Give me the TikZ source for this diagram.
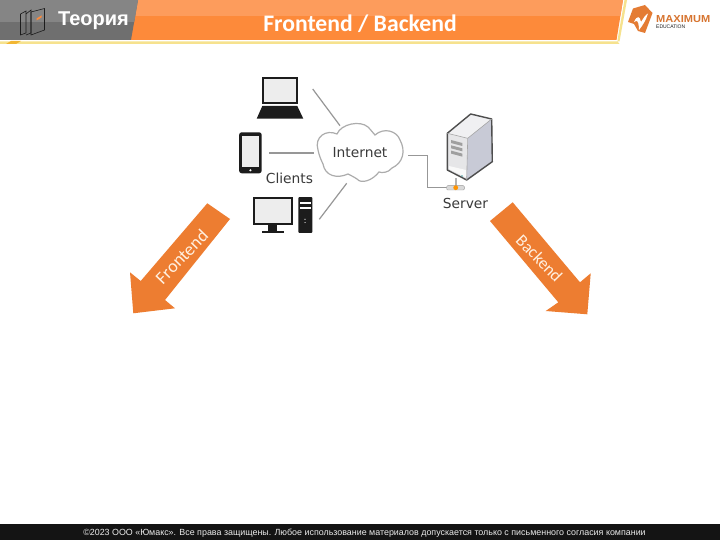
\documentclass[tikz,border=0pt]{standalone}
\usepackage{fontspec}
\setmainfont{Liberation Sans}
\newfontfamily\carl{Carlito}
\newfontfamily\dejav{DejaVu Sans}
\usetikzlibrary{calc}
\definecolor{arrorange}{HTML}{ED7D31}
\definecolor{hdA}{HTML}{FD9C5C}
\definecolor{hdB}{HTML}{FD8A3A}
\definecolor{grA}{HTML}{858585}
\definecolor{grB}{HTML}{6F6F6F}
\definecolor{yel}{HTML}{F6E28E}
\definecolor{gold}{HTML}{F2B632}
\definecolor{wire}{HTML}{979797}
\definecolor{ink}{HTML}{1C1C1C}
\definecolor{scr}{HTML}{EDEDED}
\definecolor{lab}{HTML}{3A3A3A}
\definecolor{srvside}{HTML}{C8CAD6}
\definecolor{srvfront}{HTML}{E6E6E8}
\definecolor{srvtop}{HTML}{F0F0F2}
\tikzset{
  wireline/.style={draw=wire,line width=1.2pt},
  icon/.style={draw=ink,line width=2pt,fill=scr},
  solidicon/.style={fill=ink,draw=none},
  biglabel/.style={inner sep=0,text=lab,font=\dejav\fontsize{13.8}{13.8}\selectfont},
  arrowshape/.style={fill=arrorange,draw=none},
  arrowtext/.style={inner sep=0,text=white!88!orange,font=\carl\fontsize{18}{18}\selectfont},
}
\begin{document}
\begin{tikzpicture}[x=1pt,y=-1pt]
\useasboundingbox (0,0) rectangle (720,540);
\fill[white] (0,0) rectangle (720,540);

% header
\fill[yel] (0,41.5) -- (619.5,41.5) -- (627,0) -- (624.5,0) -- (617.5,40) -- (617.5,41.5) -- (619.5,44) -- (0,44) -- cycle;
\fill[gold] (6,44) -- (11,41) -- (21,41) -- (16,44) -- cycle;
\fill[hdB] (131,0) -- (623,0) -- (616.5,40) -- (131,40) -- cycle;
\fill[hdA] (136,0) -- (623,0) -- (620.3,16) -- (134,16) -- cycle;
\fill[grB] (0,0) -- (138,0) -- (131,40) -- (0,40) -- cycle;
\fill[grA] (0,0) -- (138,0) -- (134.2,22) -- (0,22) -- cycle;

% header icon
\draw[ink,line width=0.6pt] (20.5,14) -- (26,11) -- (26,33) -- (20.5,35) -- cycle;
\draw[ink,line width=0.6pt] (26,14) -- (31,10) -- (31,33) -- (26,35);
\draw[ink,line width=0.6pt] (31,12) -- (44.5,8.5) -- (44.5,30) -- (31,35) -- cycle;
\fill[hdB] (36.5,18.5) -- (41.5,15.5) -- (41.5,17.5) -- (36.5,20.5) -- cycle;
\node[inner sep=0,text=white,font=\bfseries\fontsize{20}{20}\selectfont] (theory) at (93.5,20.5) {Теория};
\node[inner sep=0,text=white,font=\carl\bfseries\fontsize{23.7}{23.7}\selectfont] (title) at (360,24) {Frontend / Backend};

% logo
\fill[hdB!90!black] (633,8.5) -- (645,5) -- (652.5,13) -- (645,33) -- (638,31) -- (634,24) -- (628,22) -- cycle;
\fill[white] (634,22) .. controls (637,15) and (640,16) .. (641,22) .. controls (643,19) and (645,15) .. (648,13.5) .. controls (646,20) and (643,25) .. (639,30) .. controls (639,25) and (638,20) .. (636,21) -- cycle;
\node[inner sep=0,anchor=west,text=hdB!85!black,font=\bfseries\fontsize{9.5}{9.5}\selectfont] (logoa) at (656,19.5) {\resizebox{54pt}{7pt}{MAXIMUM}};
\node[inner sep=0,anchor=west,text=ink,font=\fontsize{4.5}{4.5}\selectfont] (logob) at (656,27) {\resizebox{29pt}{3.6pt}{EDUCATION}};

% clients: laptop
\node[icon,minimum width=34pt,minimum height=24.5pt,inner sep=0] (laptop) at (280.1,90.3) {};
\fill[ink] (262.3,106) -- (297.3,106) -- (303.3,118.7) -- (256.7,118.7) -- cycle;
% phone
\node[solidicon,rounded corners=2.5pt,minimum width=22.5pt,minimum height=41pt,inner sep=0] (phone) at (250.4,152.8) {};
\fill[scr] (241.9,135.7) rectangle (259,167.3);
\fill[white] (250.4,170.3) circle (1.2);
% desktop
\node[icon,minimum width=38.5pt,minimum height=26pt,inner sep=0] (monitor) at (273,211) {};
\fill[ink] (268.3,225) rectangle (276.7,230.7);
\fill[ink] (261.7,230.7) rectangle (284.3,232.9);
\node[solidicon,rounded corners=0.8pt,minimum width=14pt,minimum height=35.5pt,inner sep=0] (tower) at (305.3,215) {};
\fill[white] (299.8,202.5) rectangle (310.8,204.3);
\fill[white] (299.8,207.3) rectangle (310.8,209);
\fill[white] (305,219.3) circle (0.6) (305,222.6) circle (0.6);

% cloud
\draw[draw=wire!80,line width=1.2pt,fill=white]
  (318,150) .. controls (314,137) and (326,129) .. (337,134)
  .. controls (341,124) and (360,120) .. (368,127)
  .. controls (371,130) and (373,133) .. (375,135)
  .. controls (384,127) and (397,131) .. (400,140)
  .. controls (406,151) and (403,163) .. (392,168)
  .. controls (388,173) and (382,173) .. (379,172)
  .. controls (372,181) and (361,184) .. (357,179)
  .. controls (354,177) and (350,175) .. (348,174)
  .. controls (337,179) and (325,176) .. (323,164)
  .. controls (321,160) and (319,155) .. (318,150) -- cycle;
\node[biglabel] (internet) at (360,153) {Internet};
\node[biglabel] (clients) at (289.5,178) {Clients};

% wires
\coordinate (w1a) at (312.7,89);
\coordinate (w1b) at (340,125.7);
\coordinate (w2a) at (269.3,153);
\coordinate (w2b) at (314.3,153);
\coordinate (w3a) at (319.3,219.3);
\coordinate (w3b) at (346.7,183.3);
\coordinate (w4a) at (408.3,155.7);
\coordinate (w4b) at (447,187.7);
\draw[wireline] (w1a) -- (w1b);
\draw[wireline] (w2a) -- (w2b);
\draw[wireline] (w3a) -- (w3b);
\draw[wireline] (w4a) -- (427.3,155.7) -- (427.3,187.7) -- (w4b);

% server
\fill[gray!60] (455.2,178) rectangle (456.7,187);
\fill[white!70!gray,draw=wire,line width=0.4pt,rounded corners=1pt] (446.7,185.7) rectangle (464.3,190);
\fill[orange!85!yellow] (455.7,187.7) circle (2.4);
\fill[srvtop] (447.3,133.3) -- (470.7,114) -- (491.7,119) -- (467.7,138.3) -- cycle;
\fill[srvfront] (447.3,133.3) -- (467.7,138.3) -- (466.7,180) -- (447.3,170) -- cycle;
\fill[srvside] (467.7,138.3) -- (491.7,119) -- (492.3,161.7) -- (466.7,180) -- cycle;
\fill[white!95!gray] (449,166) -- (466,170) -- (465.8,177.5) -- (449,169) -- cycle;
\foreach \d in {0,5.3,10.6}{
  \fill[gray!75] (451,140+\d) -- (462.3,143+\d) -- (462.3,146+\d) -- (451,143+\d) -- cycle;
}
\fill[teal!70] (462,176) circle (0.8);
\draw[draw=lab!90,line width=1.4pt,line join=round] (447.3,133.3) -- (470.7,114) -- (491.7,119) -- (492.3,161.7) -- (466.7,180) -- (447.3,170) -- cycle;
\draw[draw=gray!70,line width=0.6pt] (447.3,133.3) -- (467.7,138.3) -- (491.7,119);
\draw[draw=gray!70,line width=0.6pt] (467.7,138.3) -- (466.7,180);
\node[biglabel] (server) at (465.5,203) {Server};

% arrows
\fill[arrowshape] (207.3,203.3) -- (230,219) -- (165,300) -- (175,308.3) -- (133.3,313.3) -- (130,272.3) -- (140.7,281) -- cycle;
\fill[arrowshape] (512.7,202.3) -- (490,221) -- (558.3,302.3) -- (545.7,311) -- (587.3,314.3) -- (590.7,273.3) -- (580,282.3) -- cycle;
\node[arrowtext,rotate=46] (fe) at (181.7,256.7) {Frontend};
\node[arrowtext,rotate=-46,font=\carl\fontsize{17}{17}\selectfont] (be) at (539.3,258.3) {Backend};

% footer
\fill[ink!70!black] (0,524) rectangle (720,540);
\node[inner sep=0,text=white!92!black,font=\fontsize{8.9}{8.9}\selectfont] (foot) at (364.5,533.5) {©2023 ООО «Юмакс». Все права защищены. Любое использование материалов допускается только с  письменного согласия компании};
\end{tikzpicture}
\end{document}
